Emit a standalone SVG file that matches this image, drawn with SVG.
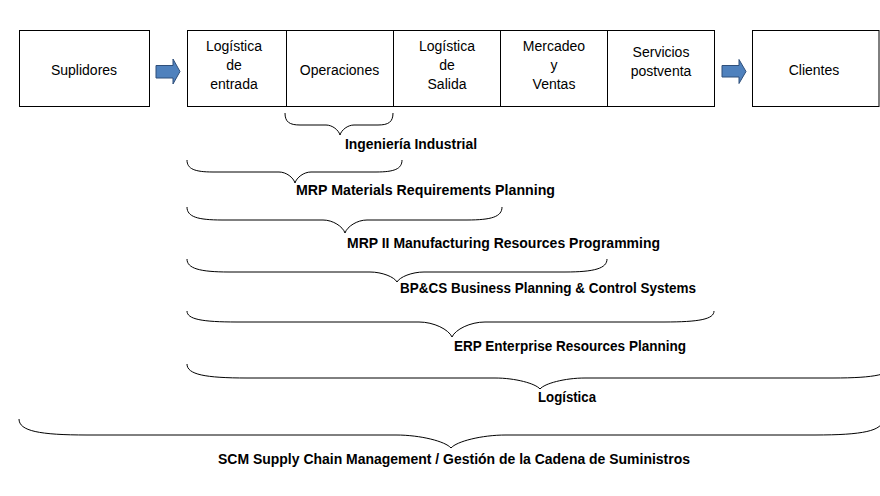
<svg xmlns="http://www.w3.org/2000/svg" width="880" height="496" viewBox="0 0 880 496">
<style>
.box{fill:#fff;stroke:#000;stroke-width:1}
.div{stroke:#000;stroke-width:1}
.t{font-family:"Liberation Sans",Arial,sans-serif;font-size:14px;fill:#000;text-anchor:middle}
.lb{font-family:"Liberation Sans",Arial,sans-serif;font-size:14px;font-weight:bold;fill:#000;text-anchor:middle}
.brace{fill:none;stroke:#000;stroke-width:1}
.arrow{fill:#4F81BD;stroke:#2F4F7A;stroke-width:1}
</style>
<rect width="880" height="496" fill="#fff"/>
<g id="suplidores">
<rect class="box" x="19.5" y="30.5" width="130" height="76"/>
<text class="t" x="84" y="75">Suplidores</text>
</g>
<g id="cadena">
<rect class="box" x="187.5" y="30.5" width="527" height="76"/>
<line class="div" x1="286.5" y1="30.5" x2="286.5" y2="106.5"/>
<line class="div" x1="393.5" y1="30.5" x2="393.5" y2="106.5"/>
<line class="div" x1="500.5" y1="30.5" x2="500.5" y2="106.5"/>
<line class="div" x1="607.5" y1="30.5" x2="607.5" y2="106.5"/>
</g>
<g id="logistica-entrada">
<text class="t" x="234" y="51">Logística</text>
<text class="t" x="234" y="70">de</text>
<text class="t" x="234" y="89">entrada</text>
</g>
<g id="operaciones">
<text class="t" x="339.5" y="75">Operaciones</text>
</g>
<g id="logistica-salida">
<text class="t" x="447" y="51">Logística</text>
<text class="t" x="447" y="70">de</text>
<text class="t" x="447" y="89">Salida</text>
</g>
<g id="mercadeo">
<text class="t" x="554" y="51">Mercadeo</text>
<text class="t" x="554" y="70">y</text>
<text class="t" x="554" y="89">Ventas</text>
</g>
<g id="servicios">
<text class="t" x="661" y="57">Servicios</text>
<text class="t" x="661" y="76">postventa</text>
</g>
<g id="clientes">
<rect class="box" x="752.5" y="30.5" width="126.5" height="76"/>
<text class="t" x="814" y="75">Clientes</text>
</g>
<g id="connectors">
<path class="arrow" d="M156,65.5 L173,65.5 L173,59 L180,71.5 L173,84 L173,78 L156,78 Z"/>
<path class="arrow" d="M722,65.5 L739,65.5 L739,59.5 L746,71.5 L739,83.5 L739,77 L722,77 Z"/>
</g>
<g id="ingenieria">
<path class="brace" d="M285,113 C285,122 289.5,125 300,125 L326,125 C332.3,125 338.6,130 340,135 C341.4,130 347.7,125 354,125 L378,125 C388.5,125 393,122 393,113"/>
<text class="lb" x="411" y="148.5" textLength="132" lengthAdjust="spacingAndGlyphs">Ingeniería Industrial</text>
</g>
<g id="mrp">
<path class="brace" d="M187,160 C187,169 194.8,172 213,172 L279,172 C286.2,172 293.4,177.5 295,183 C296.6,177.5 303.8,172 311,172 L376,172 C394.2,172 402,169 402,160"/>
<text class="lb" x="425.5" y="194.5" textLength="259" lengthAdjust="spacingAndGlyphs">MRP Materials Requirements Planning</text>
</g>
<g id="mrp2">
<path class="brace" d="M187,207 C187,216.75 197.5,220 222,220 L323,220 C332.9,220 342.8,226.5 345,233 C347.2,226.5 357.1,220 367,220 L467,220 C491.5,220 502,216.75 502,207"/>
<text class="lb" x="503.5" y="247.5" textLength="313" lengthAdjust="spacingAndGlyphs">MRP II Manufacturing Resources Programming</text>
</g>
<g id="bpcs">
<path class="brace" d="M187,259 C187,268.4 199.6,272 229,272 L370,272 C382.15,272 394.3,277 397,282 C399.7,277 411.85,272 424,272 L565,272 C594.4,272 607,268.4 607,259"/>
<text class="lb" x="548" y="293" textLength="296" lengthAdjust="spacingAndGlyphs">BP&amp;CS Business Planning &amp; Control Systems</text>
</g>
<g id="erp">
<path class="brace" d="M187,311 C187,319.25 202,322 237,322 L419,322 C433.85,322 448.7,329.5 452,337 C455.3,329.5 470.15,322 485,322 L664,322 C699,322 714,319.25 714,311"/>
<text class="lb" x="570" y="350.5" textLength="232" lengthAdjust="spacingAndGlyphs">ERP Enterprise Resources Planning</text>
</g>
<g id="logistica">
<path class="brace" d="M187,364 C187,374.5 205,378 247,378 L495,378 C515.25,378 535.5,383.5 540,389 C544.5,383.5 564.75,378 585,378 L833,378 C875,378 893,374.5 893,364"/>
<text class="lb" x="567" y="401.5" textLength="58" lengthAdjust="spacingAndGlyphs">Logística</text>
</g>
<g id="scm">
<path class="brace" d="M19,419 C19,431 39.4,435 87,435 L396,435 C420.75,435 445.5,441.5 451,448 C456.5,441.5 481.25,435 506,435 L815,435 C862.6,435 883,431 883,419"/>
<text class="lb" x="454" y="463.5" textLength="472" lengthAdjust="spacingAndGlyphs">SCM Supply Chain Management / Gestión de la Cadena de Suministros</text>
</g>
</svg>
